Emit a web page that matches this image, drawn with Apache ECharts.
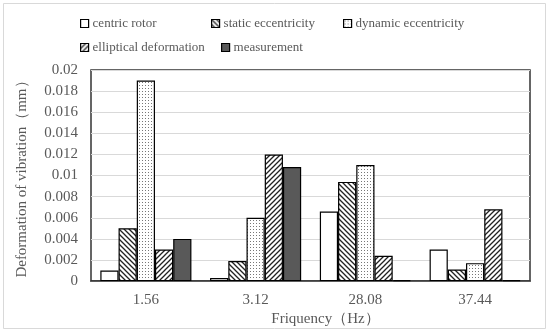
<!DOCTYPE html>
<html><head><meta charset="utf-8">
<script src="https://cdn.jsdelivr.net/npm/echarts@6/dist/echarts.min.js"></script>
<style>html,body{margin:0;padding:0;background:#fff}#c{width:550px;height:332px}</style>
</head><body><div id="c"></div>
<script>
const categories = ['1.56', '3.12', '28.08', '37.44'];
const seriesNames = ['centric rotor', 'static eccentricity', 'dynamic eccentricity', 'elliptical deformation', 'measurement'];
const centricRotor = [0.001, 0.0003, 0.0066, 0.0030];
const staticEccentricity = [0.0050, 0.0019, 0.0094, 0.0011];
const dynamicEccentricity = [0.0190, 0.0060, 0.0110, 0.0017];
const ellipticalDeformation = [0.0030, 0.0120, 0.0024, 0.0068];
const measurement = [0.0040, 0.0108, 0.0001, 0.0001];
const yTicks = [0, 0.002, 0.004, 0.006, 0.008, 0.01, 0.012, 0.014, 0.016, 0.018, 0.02];

function makePattern(kind) {
  const c = document.createElement('canvas');
  const s = kind === 'dots' ? 3 : 5;
  c.width = s; c.height = s;
  const g = c.getContext('2d');
  g.fillStyle = '#fff'; g.fillRect(0, 0, s, s);
  if (kind === 'dots') {
    g.fillStyle = '#777';
    g.fillRect(1, 1, 1, 1);
  } else {
    g.strokeStyle = '#222'; g.lineWidth = 1.3;
    g.beginPath();
    if (kind === 'back') {
      g.moveTo(-1, -1); g.lineTo(s + 1, s + 1);
      g.moveTo(-1, s - 1); g.lineTo(1, s + 1);
      g.moveTo(s - 1, -1); g.lineTo(s + 1, 1);
    } else {
      g.moveTo(-1, s + 1); g.lineTo(s + 1, -1);
      g.moveTo(-1, 1); g.lineTo(1, -1);
      g.moveTo(s - 1, s + 1); g.lineTo(s + 1, s - 1);
    }
    g.stroke();
  }
  return { image: c, repeat: 'repeat' };
}

const fills = ['#ffffff', makePattern('back'), makePattern('dots'), makePattern('fwd'), '#595959'];
const dataArr = [centricRotor, staticEccentricity, dynamicEccentricity, ellipticalDeformation, measurement];
const font = 'Liberation Serif, Times New Roman, serif';

const legendPos = [[80, 17], [211, 17], [343, 17], [80, 41], [221, 41]];
const legends = seriesNames.map((n, i) => ({
  data: [n], left: legendPos[i][0], top: legendPos[i][1], itemWidth: 8, itemHeight: 8, itemGap: 4,
  icon: 'rect', padding: 0,
  textStyle: { fontFamily: font, fontSize: 13, color: '#595959', padding: [0, 0, 0, -1] },
  itemStyle: { borderColor: '#000', borderWidth: 1.2 }
}));

const chart = echarts.init(document.getElementById('c'));
chart.setOption({
  animation: false,
  backgroundColor: '#fff',
  graphic: [{ type: 'rect', shape: { x: 3.5, y: 3.5, width: 542, height: 325 }, style: { fill: 'none', stroke: '#d9d9d9', lineWidth: 1 }, z: -1 }],
  legend: legends,
  grid: { left: 91, right: 20, top: 70, bottom: 50, show: true, borderColor: '#333', borderWidth: 1.5, containLabel: false },
  xAxis: {
    type: 'category', data: categories,
    axisLine: { show: true, lineStyle: { color: '#333', width: 1.5 } },
    axisTick: { show: false },
    axisLabel: { fontFamily: font, fontSize: 15, color: '#595959', margin: 11 },
    name: 'Friquency（Hz）', nameLocation: 'middle', nameGap: 29,
    nameTextStyle: { fontFamily: font, fontSize: 15, color: '#595959', padding: [0, 0, 0, 30] }
  },
  yAxis: {
    type: 'value', min: 0, max: 0.02, interval: 0.002,
    axisLine: { show: false }, axisTick: { show: false },
    splitLine: { lineStyle: { color: '#d9d9d9', width: 1 } },
    axisLabel: { fontFamily: font, fontSize: 15, color: '#595959', margin: 13,
      formatter: v => { const t = yTicks.find(x => Math.abs(x - v) < 1e-9); return String(t !== undefined ? t : parseFloat(v.toFixed(4))); } },
    name: 'Deformation of vibration（mm）', nameLocation: 'middle', nameGap: 61,
    nameTextStyle: { fontFamily: font, fontSize: 15, color: '#595959' }
  },
  series: seriesNames.map((n, i) => ({
    name: n, type: 'bar', data: dataArr[i], barGap: '0%', barCategoryGap: '17%',
    itemStyle: { color: fills[i], borderColor: '#000', borderWidth: 1.2 }
  }))
});
</script></body></html>
